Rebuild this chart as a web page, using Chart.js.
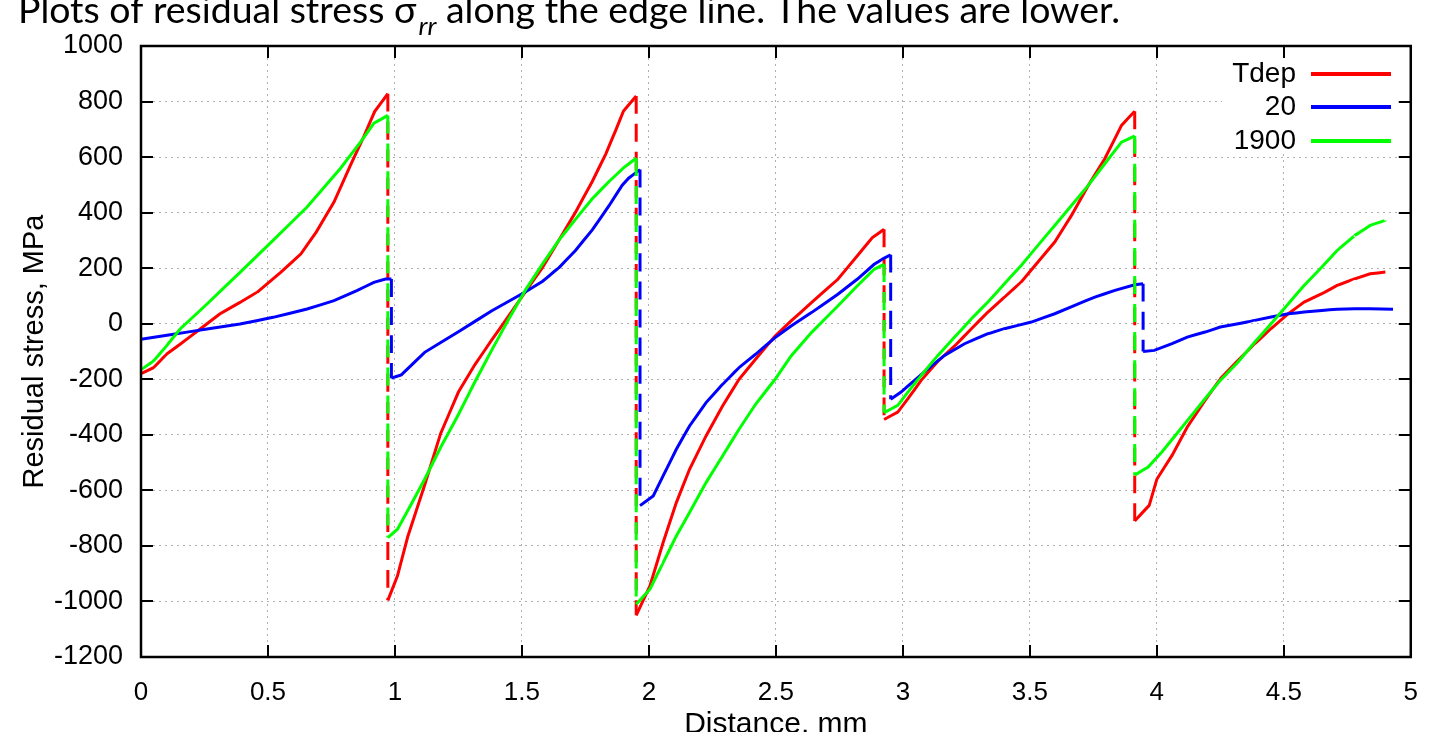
<!DOCTYPE html>
<html><head><meta charset="utf-8">
<script src="https://cdn.jsdelivr.net/npm/chart.js@4/dist/chart.umd.min.js"></script>
<style>html,body{margin:0;padding:0;background:#fff;overflow:hidden}#wrap{position:relative;width:1438px;height:732px}</style>
</head><body><div id="wrap"><canvas id="c" width="1438" height="732"></canvas></div>
<script>
// ---- data ----
const seriesLabels = ['Tdep', '20', '1900'];
const seriesColors = ['#ff0000', '#0000ff', '#00ff00'];

const tdepX = [0,0.05,0.1,0.154,0.233,0.31,0.39,0.457,0.55,0.63,0.69,0.76,0.825,0.877,0.92,0.972,
  0.972,1.01,1.05,1.117,1.18,1.25,1.315,1.38,1.447,1.513,1.58,1.645,1.71,1.777,1.83,1.87,1.90,1.95,
  1.95,2.004,2.056,2.108,2.16,2.225,2.29,2.355,2.42,2.497,2.56,2.64,2.744,2.82,2.88,2.926,
  2.926,2.98,3.02,3.072,3.138,3.204,3.27,3.335,3.4,3.466,3.532,3.598,3.664,3.73,3.795,3.861,3.913,
  3.913,3.97,4.0,4.06,4.12,4.19,4.25,4.32,4.386,4.45,4.518,4.58,4.65,4.71,4.78,4.84,4.9];
const tdepY = [-180,-158,-110,-74,-19,35,77,113,185,252,330,438,571,673,764,828,
  -996,-908,-768,-581,-395,-246,-147,-60,27,114,201,300,400,512,611,698,766,820,
  -1050,-944,-788,-644,-524,-404,-296,-200,-128,-44,10,76,160,244,310,340,
  -345,-318,-270,-204,-135,-80,-18,42,96,150,222,294,390,498,594,714,765,
  -710,-654,-560,-474,-372,-276,-198,-132,-72,-18,36,78,108,138,162,180,186];

const t20X = [0,0.128,0.26,0.39,0.52,0.654,0.76,0.85,0.917,0.963,0.986,
  0.986,1.025,1.117,1.25,1.38,1.513,1.58,1.645,1.71,1.777,1.843,1.895,1.92,1.965,
  1.965,2.017,2.056,2.108,2.16,2.225,2.29,2.355,2.42,2.497,2.56,2.64,2.744,2.82,2.887,2.926,2.952,
  2.952,2.993,3.046,3.099,3.164,3.243,3.335,3.4,3.506,3.598,3.677,3.756,3.835,3.913,3.946,
  3.946,3.99,4.06,4.12,4.19,4.25,4.32,4.386,4.45,4.518,4.58,4.65,4.71,4.78,4.84,4.93];
const t20Y = [-56,-38,-19,-1,23,53,83,119,149,161,161,
  -196,-184,-103,-29,46,114,152,201,263,338,425,499,524,555,
  -655,-620,-548,-452,-368,-284,-218,-158,-110,-50,-8,40,106,160,214,236,248,
  -272,-246,-204,-162,-114,-72,-36,-18,6,36,66,96,120,140,144,
  -100,-96,-72,-48,-30,-12,0,12,24,36,42,48,52,54,54,52];

const t1900X = [0,0.05,0.1,0.154,0.26,0.39,0.52,0.654,0.785,0.865,0.917,0.972,
  0.972,1.01,1.064,1.117,1.18,1.25,1.315,1.38,1.447,1.513,1.58,1.645,1.71,1.777,1.843,1.90,1.95,
  1.95,2.004,2.056,2.108,2.16,2.225,2.29,2.355,2.42,2.497,2.56,2.64,2.744,2.82,2.887,2.926,
  2.926,2.98,3.02,3.072,3.138,3.204,3.27,3.335,3.4,3.466,3.532,3.598,3.664,3.73,3.795,3.861,3.913,
  3.913,3.966,4.02,4.1,4.19,4.25,4.32,4.386,4.45,4.518,4.58,4.65,4.71,4.78,4.84,4.9];
const t1900Y = [-166,-134,-80,-19,71,185,300,420,559,655,722,750,
  -770,-740,-650,-560,-445,-327,-209,-97,15,120,214,300,375,450,512,561,596,
  -1010,-956,-860,-764,-680,-572,-476,-380,-290,-200,-116,-32,64,136,196,214,
  -320,-294,-246,-186,-114,-48,18,78,144,210,282,354,426,498,576,654,676,
  -545,-516,-462,-372,-270,-204,-138,-66,0,72,138,204,264,318,354,372];

const xTickValues = [0,0.5,1,1.5,2,2.5,3,3.5,4,4.5,5];
const yTickValues = [-1200,-1000,-800,-600,-400,-200,0,200,400,600,800,1000];
const titlePre = 'Plots of residual stress σ';
const titleSub = 'rr';
const titlePost = ' along the edge line. The values are lower.';
const xTitle = 'Distance, mm';
const yTitle = 'Residual stress, MPa';

// ---- build ----
function pts(xs, ys){ return xs.map((x,i)=>({x:x, y:ys[i]})); }
const jumpDash = ctx => (ctx.p0.parsed.x === ctx.p1.parsed.x ? [18,10] : undefined);
const seriesData = [pts(tdepX,tdepY), pts(t20X,t20Y), pts(t1900X,t1900Y)];
const drawOrder = [2,1,0];
const datasets = seriesLabels.map((lab,i)=>({
  label: lab, data: seriesData[i], borderColor: seriesColors[i], backgroundColor: seriesColors[i],
  borderWidth: 3, pointRadius: 0, tension: 0.000001, fill: false,
  order: drawOrder[i], segment: {borderDash: jumpDash}
}));

const FONT = "'Liberation Sans', Arial, sans-serif";

const framePlugin = {
  id: 'frame',
  afterDatasetsDraw(chart){
    const {ctx, chartArea: a, scales} = chart;
    ctx.save();
    // legend (gnuplot style, opaque box)
    ctx.fillStyle = '#fff';
    ctx.fillRect(1222, 58, 183, 95);
    ctx.font = '28px ' + FONT;
    ctx.textAlign = 'right'; ctx.textBaseline = 'middle'; ctx.fillStyle = '#000';
    const ly = [74, 107, 141];
    chart.data.datasets.forEach((d,i)=>{
      ctx.fillText(d.label, 1296, ly[i]);
      ctx.strokeStyle = d.borderColor; ctx.lineWidth = 4; ctx.setLineDash([]);
      ctx.beginPath(); ctx.moveTo(1311, ly[i]); ctx.lineTo(1391, ly[i]); ctx.stroke();
    });
    // inward ticks on all sides
    ctx.strokeStyle = '#000'; ctx.lineWidth = 2;
    const tl = 12;
    ctx.beginPath();
    xTickValues.forEach(v=>{
      const px = Math.round(scales.x.getPixelForValue(v));
      ctx.moveTo(px, a.bottom); ctx.lineTo(px, a.bottom - tl);
      ctx.moveTo(px, a.top); ctx.lineTo(px, a.top + tl);
    });
    yTickValues.forEach(v=>{
      const py = Math.round(scales.y.getPixelForValue(v));
      ctx.moveTo(a.left, py); ctx.lineTo(a.left + tl, py);
      ctx.moveTo(a.right, py); ctx.lineTo(a.right - tl, py);
    });
    ctx.stroke();
    // frame
    ctx.lineWidth = 2.5;
    ctx.strokeRect(a.left, a.top, a.right - a.left, a.bottom - a.top);
    ctx.restore();
  },
  afterDraw(chart){
    const ctx = chart.ctx;
    ctx.save();
    ctx.fillStyle = '#000';
    ctx.textBaseline = 'alphabetic'; ctx.textAlign = 'left';
    const big = "37px Lato, 'Open Sans', sans-serif";
    const small = "italic 26px Lato, 'Open Sans', sans-serif";
    ctx.font = big; const w1 = ctx.measureText(titlePre).width; const w3 = ctx.measureText(titlePost).width;
    ctx.font = small; const w2 = ctx.measureText(titleSub).width;
    const total = w1 + w2 + w3;
    const sx = 1100 / total;
    ctx.translate(18, 0); ctx.scale(sx, 1);
    const base = 23;
    ctx.font = big; ctx.fillText(titlePre, 0, base);
    ctx.font = small; ctx.fillText(titleSub, w1 + 2, base + 12);
    ctx.font = big; ctx.fillText(titlePost, w1 + w2 + 2, base);
    ctx.restore();
  }
};

new Chart(document.getElementById('c'), {
  type: 'line',
  data: {datasets},
  options: {
    responsive: false, animation: false, devicePixelRatio: 1,
    layout: {padding: {left: 0, top: 46, right: 13, bottom: 0}},
    plugins: {legend: {display: false}, title: {display: false}, tooltip: {enabled: false}},
    scales: {
      x: {
        type: 'linear', min: 0, max: 5,
        afterBuildTicks: s => { s.ticks = xTickValues.map(v=>({value:v})); },
        afterFit: s => { s.height = 75; },
        ticks: {callback: v => String(v), color: '#000', font: {family: FONT, size: 26}, padding: 20, maxRotation: 0, autoSkip: false},
        grid: {color: '#b0b0b0', lineWidth: 1, drawTicks: false},
        border: {display: false, dash: [2,4]},
        title: {display: true, text: xTitle, color: '#000', font: {family: FONT, size: 30, lineHeight: 1}, padding: {top: 0, bottom: -7.5}}
      },
      y: {
        type: 'linear', min: -1200, max: 1000,
        afterBuildTicks: s => { s.ticks = yTickValues.map(v=>({value:v})); },
        afterFit: s => { s.width = 141; },
        ticks: {callback: v => String(v), color: '#000', font: {family: FONT, size: 27}, padding: 18, autoSkip: false},
        grid: {color: '#b0b0b0', lineWidth: 1, drawTicks: false},
        border: {display: false, dash: [2,4]},
        title: {display: true, text: yTitle, color: '#000', font: {family: FONT, size: 29, lineHeight: 1}, padding: {top: 20, bottom: 0}}
      }
    }
  },
  plugins: [framePlugin]
});
</script></body></html>
